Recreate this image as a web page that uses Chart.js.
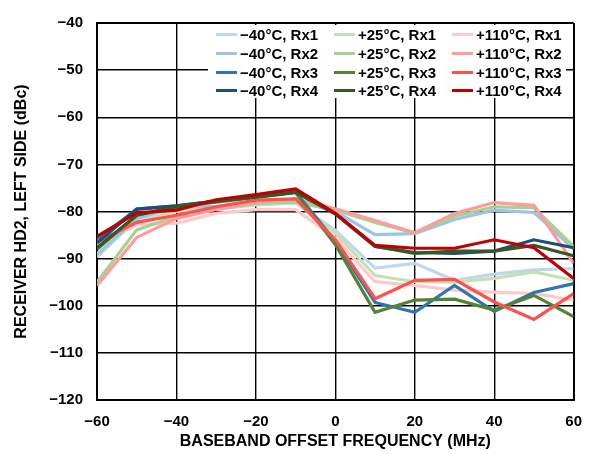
<!DOCTYPE html>
<html>
<head>
<meta charset="utf-8">
<script src="https://cdn.jsdelivr.net/npm/chart.js@4"></script>
<style>
    body { margin: 0; background: #fff; }
    #wrap { position: relative; width: 595px; height: 454px; }
    #legend {
        position: absolute; left: 208px; top: 25px; width: 358px; height: 73px;
        background: #fff; display: grid; grid-template-columns: 118px 118px 118px;
        grid-auto-rows: 18.6px; padding: 0.7px 0 0 8px; box-sizing: border-box;
        font: bold 15px "Liberation Sans", Arial, sans-serif; color: #000;
    }
    #legend .item { display: flex; align-items: center; white-space: nowrap; }
    #legend .swatch { display: inline-block; width: 21px; height: 3px; margin-right: 3px; }
</style>
</head>
<body>
<div id="wrap">
    <canvas id="grafico" width="595" height="454"></canvas>
    <div id="legend"></div>
</div>
<script>
const freqs = [-60, -50, -40, -30, -20, -10, 0, 10, 20, 30, 40, 50, 60];
const yTicks = [-120, -110, -100, -90, -80, -70, -60, -50, -40];
const xTicks = [-60, -40, -20, 0, 20, 40, 60];

// -40°C
const cold1 = [-89.7, -81.5, -79.2, -79.5, -78.6, -78.2, -84.0, -92.0, -91.0, -94.6, -93.3, -92.4, -92.1];
const cold2 = [-89.2, -81.5, -79.0, -78.9, -78.0, -77.5, -80.0, -84.9, -84.7, -81.7, -79.7, -80.2, -88.0];
const cold3 = [-86.0, -79.5, -78.8, -77.8, -76.9, -75.9, -86.3, -99.3, -101.4, -95.7, -101.2, -97.2, -95.3];
const cold4 = [-86.7, -79.5, -78.8, -77.8, -76.9, -75.9, -80.5, -87.4, -88.7, -88.9, -88.4, -86.0, -87.7];
// +25°C
const room1 = [-89.0, -82.0, -80.0, -79.2, -78.5, -78.0, -84.6, -93.6, -94.9, -95.0, -94.2, -92.8, -94.6];
const room2 = [-95.0, -83.9, -81.0, -79.5, -78.3, -78.0, -79.7, -82.3, -84.6, -81.0, -79.0, -79.2, -87.4];
const room3 = [-88.0, -80.8, -79.0, -78.0, -77.0, -76.0, -87.0, -101.4, -98.8, -98.6, -100.9, -97.8, -102.3];
const room4 = [-87.7, -80.8, -79.0, -77.8, -76.9, -75.9, -80.5, -87.4, -88.9, -88.4, -88.4, -87.2, -89.4];
// +110°C
const hot1 = [-87.0, -82.8, -82.5, -80.4, -79.6, -79.6, -85.6, -94.9, -95.7, -96.7, -97.1, -97.4, -98.8];
const hot2 = [-95.7, -85.5, -81.5, -79.5, -78.0, -77.3, -79.4, -81.9, -84.5, -80.4, -78.1, -78.7, -91.0];
const hot3 = [-86.5, -82.3, -80.8, -79.0, -77.6, -77.3, -86.0, -98.5, -94.6, -94.4, -99.2, -102.9, -97.4];
const hot4 = [-85.3, -80.3, -79.7, -77.5, -76.4, -75.2, -80.4, -87.2, -87.8, -87.8, -86.0, -87.7, -94.2];

const series = [
    { label: '\u221240°C, Rx1', data: cold1, cor: '#bdd7ee' },
    { label: '+25°C, Rx1', data: room1, cor: '#c5e0b4' },
    { label: '+110°C, Rx1', data: hot1, cor: '#ffc9c9' },
    { label: '\u221240°C, Rx2', data: cold2, cor: '#9dc3e6' },
    { label: '+25°C, Rx2', data: room2, cor: '#a9d18e' },
    { label: '+110°C, Rx2', data: hot2, cor: '#ff9b9b' },
    { label: '\u221240°C, Rx3', data: cold3, cor: '#2e75b6' },
    { label: '+25°C, Rx3', data: room3, cor: '#548235' },
    { label: '+110°C, Rx3', data: hot3, cor: '#ff5050' },
    { label: '\u221240°C, Rx4', data: cold4, cor: '#1f4e79' },
    { label: '+25°C, Rx4', data: room4, cor: '#385723' },
    { label: '+110°C, Rx4', data: hot4, cor: '#c00000' }
];

const fonte = { family: '"Liberation Sans", Arial, sans-serif', weight: 'bold', size: 15 };
const fonteTitulo = { family: '"Liberation Sans", Arial, sans-serif', weight: 'bold', size: 16 };
const sinal = v => (v < 0 ? '\u2212' + Math.abs(v) : String(v));

function larguraGrade(ctx, total) {
    return (ctx.index === 0 || ctx.index === total - 1) ? 2 : 1.4;
}

// index 0 is drawn last, so Rx4 lines go first to sit on top
const datasets = series.slice().reverse().map(s => ({
    label: s.label,
    data: freqs.map((f, i) => ({ x: f, y: s.data[i] })),
    borderColor: s.cor,
    backgroundColor: s.cor,
    borderWidth: 3.2,
    pointRadius: 0,
    tension: 0,
    fill: false
}));

new Chart(document.getElementById('grafico'), {
    type: 'line',
    data: { datasets },
    options: {
        responsive: false,
        animation: false,
        layout: { padding: { left: 0, right: 18, top: 16, bottom: 0 } },
        plugins: { legend: { display: false }, tooltip: { enabled: false } },
        scales: {
            x: {
                type: 'linear', min: -60, max: 60,
                afterBuildTicks: s => { s.ticks = xTicks.map(v => ({ value: v })); },
                afterFit: s => { s.height = 54; },
                ticks: { font: fonte, color: '#000', padding: 13, maxRotation: 0, callback: sinal },
                grid: { color: '#000', lineWidth: ctx => larguraGrade(ctx, xTicks.length), drawTicks: false },
                border: { color: '#000', width: 2 },
                title: {
                    display: true, text: 'BASEBAND OFFSET FREQUENCY (MHz)',
                    font: fonteTitulo, color: '#000', padding: { top: 0, bottom: 3 }
                }
            },
            y: {
                type: 'linear', min: -120, max: -40,
                afterBuildTicks: s => { s.ticks = yTicks.map(v => ({ value: v })); },
                afterFit: s => { s.width = 97; },
                ticks: { font: fonte, color: '#000', padding: 14, callback: sinal },
                grid: { color: '#000', lineWidth: ctx => larguraGrade(ctx, yTicks.length), drawTicks: false },
                border: { color: '#000', width: 2 },
                title: {
                    display: true, text: 'RECEIVER HD2, LEFT SIDE (dBc)',
                    font: fonteTitulo, color: '#000', padding: { top: 12, bottom: 0 }
                }
            }
        }
    }
});

document.getElementById('legend').innerHTML = series.map(s => `
    <div class="item"><span class="swatch" style="background:${s.cor}"></span>${s.label}</div>
`).join('');
</script>
</body>
</html>
